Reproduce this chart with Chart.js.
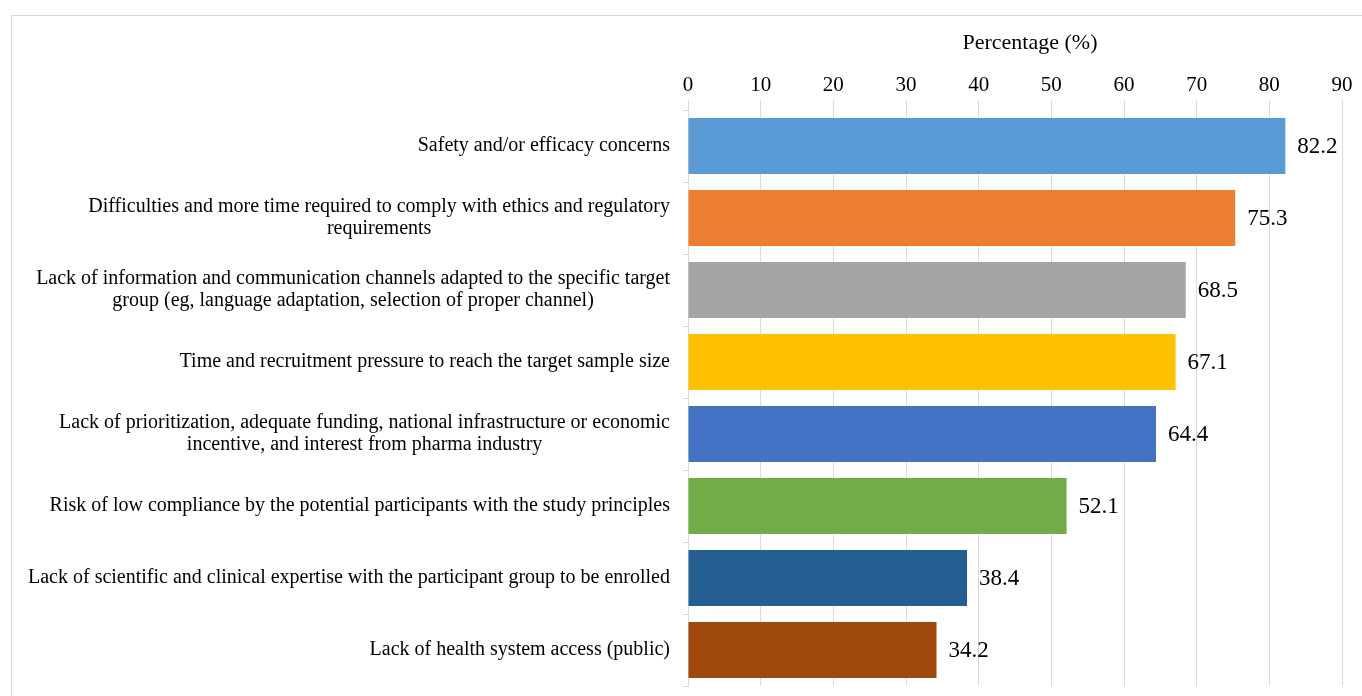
<!DOCTYPE html>
<html lang="en">
  <head>
    <meta charset="UTF-8" />
    <title>Barriers to participant enrolment</title>
    <script src="https://cdn.jsdelivr.net/npm/chart.js"></script>
    <style>
      body {
        margin: 0;
        background: #ffffff;
        font-family: 'Liberation Serif', 'Times New Roman', serif;
      }
      .frame {
        position: absolute;
        left: 11px;
        top: 15px;
        width: 1400px;
        height: 720px;
        border: 1px solid #d9d9d9;
      }
      canvas {
        position: absolute;
        left: 0;
        top: 0;
      }
    </style>
  </head>
  <body>
    <div class="frame"></div>
    <canvas id="barriers" width="1362" height="696"></canvas>

    <script>
      // Reasons, multi-line where the text wraps
      const reasons = [
        ['Safety and/or efficacy concerns'],
        ['Difficulties and more time required to comply with ethics and regulatory', 'requirements'],
        ['Lack of information and communication channels adapted to the specific target', 'group (eg, language adaptation, selection of proper channel)'],
        ['Time and recruitment pressure to reach the target sample size'],
        ['Lack of prioritization, adequate funding, national infrastructure or economic', 'incentive, and interest from pharma industry'],
        ['Risk of low compliance by the potential participants with the study principles'],
        ['Lack of scientific and clinical expertise with the participant group to be enrolled'],
        ['Lack of health system access (public)']
      ]
      const percentages = [82.2, 75.3, 68.5, 67.1, 64.4, 52.1, 38.4, 34.2]
      const barColors = ['#5b9bd5', '#ed7d31', '#a5a5a5', '#ffc000', '#4472c4', '#70ad47', '#255e91', '#9e480e']
      const axisTitle = 'Percentage (%)'

      const serif = "'Liberation Serif', 'Times New Roman', serif"

      // category text: each block right-aligned to the axis, lines centred within the block
      const categoryLabels = {
        id: 'categoryLabels',
        afterDraw(chart) {
          const ctx = chart.ctx
          const y = chart.scales.y
          ctx.save()
          ctx.font = '20px ' + serif
          ctx.fillStyle = '#000'
          ctx.textAlign = 'center'
          ctx.textBaseline = 'middle'
          const right = y.right - 18
          const lineH = 22
          reasons.forEach((lines, i) => {
            const w = Math.max(...lines.map(l => ctx.measureText(l).width))
            const cx = right - w / 2
            const cy = y.getPixelForValue(i)
            lines.forEach((l, k) => {
              ctx.fillText(l, cx, cy + (k - (lines.length - 1) / 2) * lineH)
            })
          })
          ctx.restore()
        }
      }

      // axis title above the tick labels
      const axisTitleText = {
        id: 'axisTitleText',
        afterDraw(chart) {
          const ctx = chart.ctx
          const x = chart.scales.x
          ctx.save()
          ctx.font = '22px ' + serif
          ctx.fillStyle = '#000'
          ctx.textAlign = 'center'
          ctx.textBaseline = 'middle'
          ctx.fillText(axisTitle, (x.left + x.right) / 2 + 15, 43)
          ctx.restore()
        }
      }

      // value text at the end of each bar
      const valueLabels = {
        id: 'valueLabels',
        afterDatasetsDraw(chart) {
          const ctx = chart.ctx
          const meta = chart.getDatasetMeta(0)
          ctx.save()
          ctx.font = '23px ' + serif
          ctx.fillStyle = '#000'
          ctx.textAlign = 'left'
          ctx.textBaseline = 'middle'
          meta.data.forEach((bar, i) => {
            ctx.fillText(percentages[i].toFixed(1), bar.x + 12, bar.y + 1)
          })
          ctx.restore()
        }
      }

      new Chart(document.getElementById('barriers').getContext('2d'), {
        type: 'bar',
        data: {
          labels: reasons.map(r => r.join(' ')),
          datasets: [
            {
              data: percentages,
              backgroundColor: barColors,
              borderWidth: 0,
              categoryPercentage: 1,
              barPercentage: 0.78
            }
          ]
        },
        options: {
          indexAxis: 'y',
          responsive: false,
          animation: false,
          layout: { padding: { left: 0, right: 20, top: 28, bottom: 10 } },
          plugins: {
            legend: { display: false },
            tooltip: { enabled: false }
          },
          scales: {
            x: {
              position: 'top',
              min: 0,
              max: 90,
              ticks: {
                stepSize: 10,
                color: '#000',
                padding: 2,
                font: { family: serif, size: 21 }
              },
              grid: { color: '#d9d9d9', tickLength: 10 },
              border: { display: false },
              afterFit(scale) {
                scale.height = 82
              }
            },
            y: {
              ticks: { display: false },
              grid: {
                drawOnChartArea: false,
                drawTicks: true,
                tickLength: 5,
                color: '#d9d9d9',
                offset: true
              },
              border: { display: true, color: '#d9d9d9' },
              afterFit(scale) {
                scale.width = 688
              }
            }
          }
        },
        plugins: [categoryLabels, axisTitleText, valueLabels]
      })
    </script>
  </body>
</html>
